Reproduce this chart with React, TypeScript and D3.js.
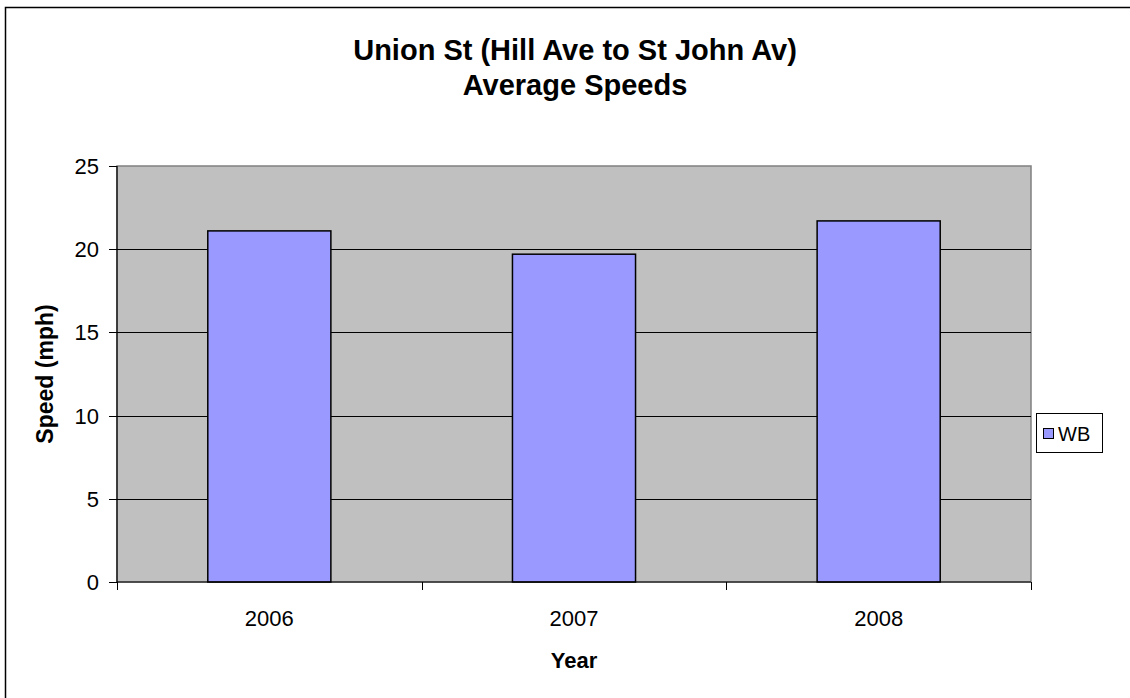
import React from "react";
import * as d3 from "d3";

const years = ["2006", "2007", "2008"];
const wbSpeeds = [21.1, 19.7, 21.7];
const yTicks = [0, 5, 10, 15, 20, 25];
const titleLines = ["Union St (Hill Ave to St John Av)", "Average Speeds"];
const seriesName = "WB";

export default function App() {
  const W = 1130, H = 698;
  const left = 117, right = 1031, top = 166, bottom = 582;
  const font = "Liberation Sans, Arial, Helvetica, sans-serif";

  const x = d3.scaleBand<string>().domain(years).range([left, right]).paddingInner(0.596).paddingOuter(0.298);
  const xb = d3.scaleLinear().domain([0, years.length]).range([left, right]);
  const y = d3.scaleLinear().domain([0, 25]).range([bottom, top]);
  const cx = (left + right) / 2;

  return (
    <svg width={W} height={H} style={{ position: "absolute", left: 0, top: 0, background: "#fff" }} fontFamily={font}>
      <rect x={5.5} y={7.5} width={W + 10} height={H + 10} fill="#fff" stroke="#000" strokeWidth={1.5} />
      {titleLines.map((t, i) => (
        <text key={i} x={575} y={60 + i * 35} textAnchor="middle" fontSize={29} fontWeight="bold" fill="#000">{t}</text>
      ))}
      <rect x={left} y={top} width={right - left} height={bottom - top} fill="#C0C0C0" stroke="#808080" strokeWidth={1.5} />
      {yTicks.filter(v => v > 0 && v < 25).map(v => (
        <line key={v} x1={left} x2={right} y1={Math.round(y(v)) + 0.5} y2={Math.round(y(v)) + 0.5} stroke="#000" strokeWidth={1} />
      ))}
      {years.map((yr, i) => (
        <rect key={yr} x={x(yr)} y={y(wbSpeeds[i])} width={x.bandwidth()} height={y(0) - y(wbSpeeds[i])} fill="#9999FF" stroke="#000" strokeWidth={1.5} />
      ))}
      <line x1={left} x2={left} y1={top} y2={bottom} stroke="#000" strokeWidth={1.2} />
      <line x1={left} x2={right} y1={bottom} y2={bottom} stroke="#000" strokeWidth={1.2} />
      {yTicks.map(v => (
        <g key={v}>
          <line x1={left - 8} x2={left} y1={Math.round(y(v)) + 0.5} y2={Math.round(y(v)) + 0.5} stroke="#000" />
          <text x={left - 18} y={y(v)} dy="0.36em" textAnchor="end" fontSize={22} fill="#000">{v}</text>
        </g>
      ))}
      {d3.range(years.length + 1).map(i => (
        <line key={i} x1={Math.round(xb(i)) + 0.5} x2={Math.round(xb(i)) + 0.5} y1={bottom} y2={bottom + 8} stroke="#000" />
      ))}
      {years.map(yr => (
        <text key={yr} x={x(yr)! + x.bandwidth() / 2} y={626} textAnchor="middle" fontSize={22} fill="#000">{yr}</text>
      ))}
      <text x={cx} y={668} textAnchor="middle" fontSize={22} fontWeight="bold" fill="#000">Year</text>
      <text transform={`translate(53, ${(top + bottom) / 2}) rotate(-90)`} textAnchor="middle" fontSize={23} fontWeight="bold" fill="#000">Speed (mph)</text>
      <g>
        <rect x={1036.5} y={413.5} width={66} height={39} fill="#fff" stroke="#000" strokeWidth={1} />
        <rect x={1043.5} y={428.5} width={10} height={10} fill="#9999FF" stroke="#000" strokeWidth={1} />
        <text x={1058} y={441} fontSize={20} fill="#000">{seriesName}</text>
      </g>
    </svg>
  );
}
